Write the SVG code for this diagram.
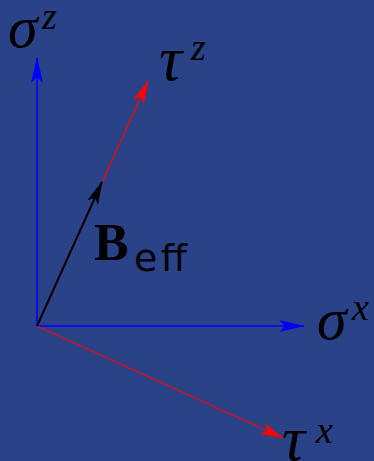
<svg xmlns="http://www.w3.org/2000/svg" width="374" height="461" viewBox="0 0 374 461">
<style>
.sym{font-family:"Liberation Serif","Times New Roman",serif;font-style:italic;fill:#000}
.bold{font-family:"Liberation Serif","Times New Roman",serif;font-weight:bold;fill:#000}
.sans{font-family:"DejaVu Sans","Liberation Sans",sans-serif;fill:#000}
.blue{stroke:#0000ff;stroke-width:1.6;fill:none}
.red{stroke:#ff0000;stroke-width:1.3;fill:none}
.black{stroke:#000;stroke-width:2;fill:none}
</style>
<defs>
<marker id="hb" viewBox="0 0 26 12" markerWidth="26" markerHeight="12" refX="25" refY="6" orient="auto" markerUnits="userSpaceOnUse"><path d="M26,6 L0,0 L6,6 L0,12 Z" fill="#0000ff"/></marker>
<marker id="hr" viewBox="0 0 24 12" markerWidth="24" markerHeight="12" refX="23" refY="6" orient="auto" markerUnits="userSpaceOnUse"><path d="M24,6 L0,0 L6,6 L0,12 Z" fill="#ff0000"/></marker>
<marker id="hk" viewBox="0 0 24 12" markerWidth="24" markerHeight="12" refX="23" refY="6" orient="auto" markerUnits="userSpaceOnUse"><path d="M24,6 L0,0 L6,6 L0,12 Z" fill="#000"/></marker>
</defs>
<rect width="374" height="461" fill="#2a4288"/>
<g id="connectors">
<line class="blue" x1="37" y1="326" x2="37" y2="58" marker-end="url(#hb)"/>
<line class="blue" x1="37" y1="326" x2="304" y2="326" marker-end="url(#hb)"/>
<line class="red" x1="37" y1="326" x2="148" y2="81" marker-end="url(#hr)"/>
<line class="red" x1="37" y1="326" x2="283" y2="438" marker-end="url(#hr)"/>
<line class="black" x1="37" y1="326" x2="102" y2="182" marker-end="url(#hk)"/>
</g>
<g id="sigma-z"><text class="sym" x="8" y="47" font-size="60">σ</text><text class="sym" x="42" y="29" font-size="38">z</text></g>
<g id="tau-z"><text class="sym" x="159" y="80" font-size="64">τ</text><text class="sym" x="191" y="60" font-size="38">z</text></g>
<g id="beff"><text class="bold" x="94" y="260" font-size="52">B</text><text class="sans" x="134" y="271" font-size="38" textLength="53">eff</text></g>
<g id="sigma-x"><text class="sym" x="317" y="339" font-size="60">σ</text><text class="sym" x="352" y="320" font-size="38">x</text></g>
<g id="tau-x"><text class="sym" x="282" y="460" font-size="64">τ</text><text class="sym" x="316" y="443" font-size="38">x</text></g>
</svg>
